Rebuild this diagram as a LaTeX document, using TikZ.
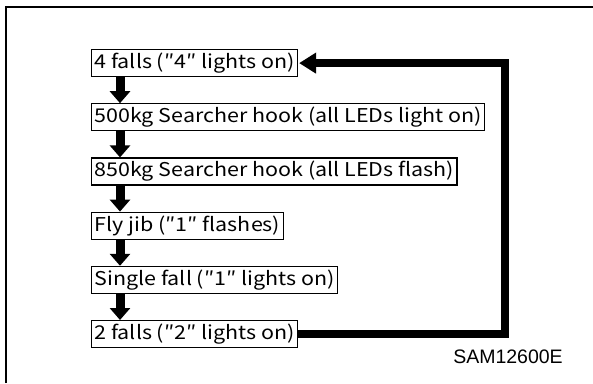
\documentclass[tikz,border=0pt]{standalone}
\usepackage{fontspec}
\newfontfamily\jpfont[FakeStretch=1.13]{Noto Sans CJK JP}
\newfontfamily\codefont{Liberation Sans}
\usepackage{tikz}
\usetikzlibrary{arrows.meta, positioning, calc}
\tikzset{
  modebox/.style={
    rectangle, draw, line width=1.2pt, minimum height=27pt,
    inner xsep=3pt, inner ysep=0pt, anchor=north west,
    font=\jpfont\fontsize{19}{19}\selectfont
  },
  arr/.style={-{Triangle[length=12pt, width=20pt]}, line width=9pt},
  backarr/.style={-{Triangle[length=17pt, width=20pt]}, line width=8pt, miter limit=10}
}
\begin{document}
\begin{tikzpicture}[x=1pt, y=-1pt, node distance=26pt]
  \useasboundingbox (0,0) rectangle (593,383);
  \draw[line width=1.6pt] (6,383) |- (593,7);

  \node[modebox] at (91,49) (b1) {4 falls (″4″ lights on)};
  \node[modebox, below=of b1.south west, anchor=north west] (b2) {500kg Searcher hook (all LEDs light on)};
  \node[modebox, below=of b2.south west, anchor=north west] (b3) {850kg Searcher hook (all LEDs flash)};
  \node[modebox, below=of b3.south west, anchor=north west] (b4) {Fly jib (″1″ flashes)};
  \node[modebox, below=of b4.south west, anchor=north west] (b5) {Single fall (″1″ lights on)};
  \node[modebox, below=of b5.south west, anchor=north west] (b6) {2 falls (″2″ lights on)};

  \draw[arr] ([xshift=29pt]b1.south west) -- ([xshift=29pt]b2.north west);
  \draw[arr] ([xshift=29pt]b2.south west) -- ([xshift=29pt]b3.north west);
  \draw[arr] ([xshift=29pt]b3.south west) -- ([xshift=29pt]b4.north west);
  \draw[arr] ([xshift=29pt]b4.south west) -- ([xshift=29pt]b5.north west);
  \draw[arr] ([xshift=29pt]b5.south west) -- ([xshift=29pt]b6.north west);

  \coordinate (turn) at (505,0);
  \draw[backarr] (b6.east) -- (b6.east -| turn) -- (b1.east -| turn) -- ([xshift=1pt]b1.east);

  \node[font=\codefont\fontsize{19.5}{19.5}\selectfont] (code) at (508,357) {SAM12600E};
\end{tikzpicture}
\end{document}
